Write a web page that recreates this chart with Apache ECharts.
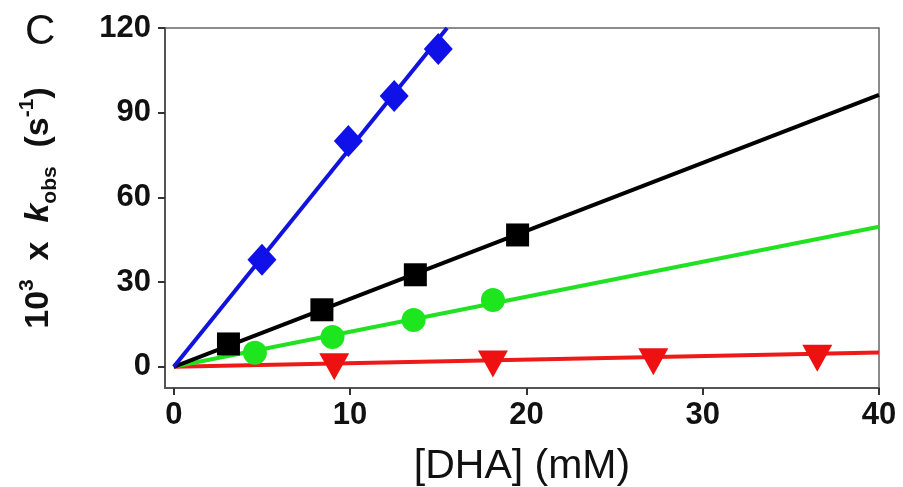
<!DOCTYPE html>
<html>
<head>
<meta charset="utf-8">
<script src="https://cdn.jsdelivr.net/npm/echarts@6/dist/echarts.min.js"></script>
<style>
  html, body { margin: 0; padding: 0; background: #fff; }
  #chart { width: 903px; height: 487px; }
</style>
</head>
<body>
<div id="chart"></div>
<script>
// 数据点 [DHA, 10^3 kobs]
const blueData = [[5.0, 37.9], [9.9, 80.0], [12.5, 95.9], [15.0, 112.6]]
const blackData = [[3.1, 8.1], [8.4, 20.2], [13.7, 32.6], [19.5, 46.7]]
const greenData = [[4.6, 5.0], [9.0, 10.6], [13.6, 16.6], [18.1, 23.7]]
const redData = [[9.1, 0.0], [18.1, 1.0], [27.2, 1.8], [36.5, 3.0]]
// 拟合直线的端点
const blueFit = [[0, 0], [15.5, 120]]
const blackFit = [[0, 0], [40, 96.3]]
const greenFit = [[0, 0], [40, 49.6]]
const redFit = [[0, 0], [40, 5.1]]
// 刻度
const xTicks = [0, 10, 20, 30, 40]
const yTicks = [0, 30, 60, 90, 120]

const chart = echarts.init(document.getElementById('chart'))
const font = 'Liberation Sans, Arial, sans-serif'

function fitLine (data, color) {
  return {
    type: 'line',
    data: data,
    symbol: 'none',
    z: 2,
    lineStyle: { color: color, width: 4 }
  }
}

function points (data, color, symbol, size, rotate) {
  return {
    type: 'scatter',
    data: data,
    symbol: symbol,
    symbolSize: size,
    symbolRotate: rotate || 0,
    z: 3,
    itemStyle: { color: color, opacity: 1 }
  }
}

const option = {
  animation: false,
  backgroundColor: '#fff',
  title: {
    text: 'C',
    left: 20,
    top: 6,
    textStyle: { fontFamily: font, fontSize: 42, fontWeight: 'normal', color: '#111' }
  },
  grid: {
    left: 165,
    right: 24,
    top: 28,
    bottom: 99,
    outerBoundsMode: 'none',
    containLabel: false,
    show: true,
    borderColor: '#666',
    borderWidth: 1.5
  },
  xAxis: {
    type: 'value',
    min: -0.5,
    max: 40,
    name: '[DHA] (mM)',
    nameLocation: 'middle',
    nameGap: 58,
    nameTextStyle: { fontFamily: font, fontSize: 41, color: '#111' },
    axisLine: { onZero: false, lineStyle: { color: '#555', width: 2 } },
    axisTick: { show: true, length: 7, customValues: xTicks, lineStyle: { color: '#333', width: 2 } },
    axisLabel: {
      customValues: xTicks,
      margin: 12,
      fontFamily: font,
      fontSize: 31,
      fontWeight: 'bold',
      color: '#111'
    },
    splitLine: { show: false }
  },
  yAxis: {
    type: 'value',
    min: -7.5,
    max: 120,
    name: '{n|10}{sup|3}{n|  x  }{k|k}{sub|obs}{n|  (s}{sup|-1}{n|)}',
    nameLocation: 'middle',
    nameGap: 104,
    nameRotate: 90,
    nameTextStyle: {
      fontFamily: font,
      color: '#111',
      rich: {
        n: { fontFamily: font, fontSize: 34, fontWeight: 'bold', color: '#111', lineHeight: 44 },
        k: { fontFamily: font, fontSize: 34, fontWeight: 'bold', fontStyle: 'italic', color: '#111', lineHeight: 44 },
        sup: { fontFamily: font, fontSize: 21, fontWeight: 'bold', color: '#111', verticalAlign: 'top', lineHeight: 44, padding: [0, 0, 16, 0] },
        sub: { fontFamily: font, fontSize: 21, fontWeight: 'bold', color: '#111', verticalAlign: 'bottom', lineHeight: 44, padding: [14, 0, 0, 0] }
      }
    },
    axisLine: { onZero: false, lineStyle: { color: '#555', width: 2 } },
    axisTick: { show: true, length: 7, customValues: yTicks, lineStyle: { color: '#333', width: 2 } },
    axisLabel: {
      customValues: yTicks,
      margin: 14,
      fontFamily: font,
      fontSize: 31,
      fontWeight: 'bold',
      color: '#111'
    },
    splitLine: { show: false }
  },
  series: [
    fitLine(redFit, '#ee1a1a'),
    fitLine(greenFit, '#22e022'),
    fitLine(blackFit, '#000'),
    fitLine(blueFit, '#1212dd'),
    points(redData, '#ee1111', 'triangle', [30, 27], 180),
    points(greenData, '#1ee61e', 'circle', 24),
    points(blackData, '#000', 'rect', 23),
    points(blueData, '#1010e8', 'diamond', [29, 32])
  ]
}

chart.setOption(option)
</script>
</body>
</html>
